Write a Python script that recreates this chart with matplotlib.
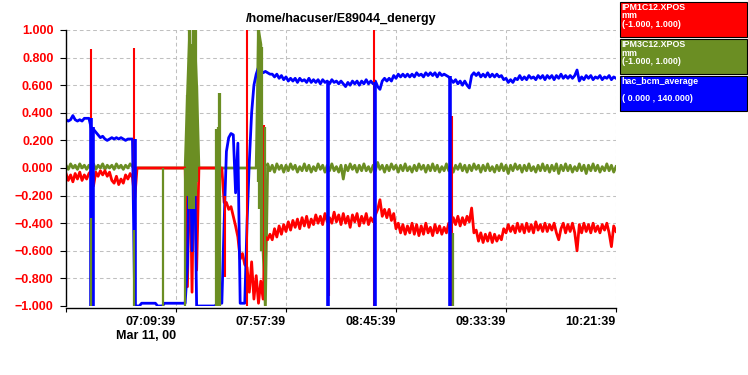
import numpy as np
import matplotlib
matplotlib.use("Agg")
import matplotlib.pyplot as plt
from matplotlib.patches import Rectangle

plt.rcParams["font.family"] = ["Liberation Sans", "DejaVu Sans"]
plt.rcParams["font.weight"] = "bold"

TITLE = "/home/hacuser/E89044_denergy"

# x axis is minutes after 06:21:39, one reading per minute
TICK_MINUTES = [0, 48, 96, 144, 192, 240]
TICK_LABELS = ["", "07:09:39\nMar 11, 00", "07:57:39", "08:45:39", "09:33:39", "10:21:39"]
Y_TICKS = [-1.0, -0.8, -0.6, -0.4, -0.2, 0.0, 0.2, 0.4, 0.6, 0.8, 1.0]

LEGEND_NAMES = ["IPM1C12.XPOS", "IPM3C12.XPOS", "hac_bcm_average"]
LEGEND_UNITS = ["mm", "mm", ""]
LEGEND_RANGES = ["(-1.000, 1.000)", "(-1.000, 1.000)", "( 0.000 , 140.000)"]

RED = "#ff0000"
GREEN = "#6b8e23"
BLUE = "#0000ff"

# IPM1C12.XPOS, minute 0..240
red_values = [
    -0.04, -0.09, -0.05, -0.10, -0.04, -0.08, -0.03, -0.09, -0.05, -0.08,
    -0.04, -0.02, -0.13, -0.03, -0.06, -0.02, -0.05, -0.02, -0.06, -0.03,
    -0.09, -0.11, -0.06, -0.12, -0.08, -0.11, -0.05, -0.08, -0.04, -0.07,
    -0.22, 0.00, 0.00, 0.00, 0.00, 0.00, 0.00, 0.00, 0.00, 0.00,
    0.00, 0.00, 0.00, 0.00, 0.00, 0.00, 0.00, 0.00, 0.00, 0.00,
    0.00, 0.00, 0.00, -0.86, 0.20, -0.90, 0.35, -0.74, 0.00, 0.00,
    0.00, 0.00, 0.00, 0.00, 0.00, 0.00, 0.00, 0.00, 0.00, -0.25,
    -0.25, -0.30, -0.28, -0.35, -0.42, -0.50, -0.66, -0.62, -0.70, -0.72,
    -0.90, -0.68, -0.95, -0.78, -0.98, -0.82, -0.95, -0.50, -0.52, -0.48,
    -0.52, -0.44, -0.50, -0.42, -0.48, -0.41, -0.46, -0.39, -0.45, -0.38,
    -0.43, -0.37, -0.44, -0.36, -0.42, -0.35, -0.43, -0.37, -0.41, -0.34,
    -0.40, -0.35, -0.41, -0.33, -0.39, -0.36, -0.40, -0.32, -0.39, -0.34,
    -0.41, -0.33, -0.40, -0.35, -0.43, -0.34, -0.39, -0.33, -0.42, -0.35,
    -0.40, -0.33, -0.41, -0.36, -0.39, -0.34, -0.30, -0.23, -0.35, -0.30,
    -0.36, -0.30, -0.38, -0.33, -0.44, -0.40, -0.47, -0.41, -0.48, -0.42,
    -0.47, -0.40, -0.48, -0.41, -0.49, -0.42, -0.48, -0.40, -0.47, -0.43,
    -0.49, -0.41, -0.47, -0.42, -0.48, -0.43, -0.47, -0.40, -0.42, -0.36,
    -0.41, -0.35, -0.42, -0.36, -0.41, -0.35, -0.39, -0.29, -0.47, -0.45,
    -0.53, -0.47, -0.54, -0.48, -0.53, -0.47, -0.54, -0.48, -0.53, -0.49,
    -0.52, -0.44, -0.47, -0.41, -0.46, -0.42, -0.47, -0.40, -0.46, -0.41,
    -0.47, -0.40, -0.46, -0.41, -0.47, -0.39, -0.45, -0.41, -0.46, -0.40,
    -0.46, -0.41, -0.45, -0.40, -0.47, -0.52, -0.44, -0.40, -0.47, -0.41,
    -0.46, -0.40, -0.47, -0.60, -0.41, -0.47, -0.40, -0.46, -0.41, -0.47,
    -0.40, -0.46, -0.42, -0.47, -0.41, -0.45, -0.40, -0.47, -0.57, -0.42,
    -0.46,
]

# IPM3C12.XPOS, minute 0..240
green_values = [
    0.02, -0.01, 0.03, 0.00, 0.02, -0.01, 0.03, 0.00, 0.02, -0.01,
    0.02, 0.00, 0.03, -0.01, 0.02, 0.00, 0.03, -0.01, 0.02, 0.00,
    0.02, -0.01, 0.03, 0.00, 0.02, -0.01, 0.02, 0.00, 0.03, 0.01,
    0.00, 0.00, 0.00, 0.00, 0.00, 0.00, 0.00, 0.00, 0.00, 0.00,
    0.00, 0.00, 0.00, 0.00, 0.00, 0.00, 0.00, 0.00, 0.00, 0.00,
    0.00, 0.00, 0.00, 0.53, 1.00, -0.30, 1.00, 0.60, 0.00, 0.00,
    0.00, 0.00, 0.00, 0.00, 0.00, 0.00, 0.00, 0.00, 0.00, 0.00,
    0.00, 0.00, 0.00, 0.00, 0.00, 0.00, 0.00, 0.00, 0.00, 0.00,
    0.00, 0.00, 0.00, 0.00, 1.00, 0.90, -0.60, -1.00, 0.03, -0.02,
    0.02, -0.03, 0.03, -0.01, 0.02, -0.03, 0.02, -0.02, 0.03, -0.01,
    0.02, -0.03, 0.01, -0.02, 0.03, -0.02, 0.02, -0.03, 0.01, -0.02,
    0.03, -0.01, 0.02, -0.03, 0.02, -0.02, 0.03, -0.02, 0.01, -0.03,
    0.02, -0.08, 0.02, -0.02, 0.03, -0.01, 0.02, -0.03, 0.02, -0.02,
    0.03, -0.02, 0.01, -0.03, 0.02, -0.02, 0.04, -0.01, 0.02, -0.03,
    0.02, -0.02, 0.03, -0.01, 0.02, -0.03, 0.02, -0.02, 0.03, -0.02,
    0.01, -0.03, 0.02, -0.02, 0.03, -0.01, 0.02, -0.03, 0.02, -0.02,
    0.03, -0.02, 0.02, -0.03, 0.01, -0.02, 0.03, -0.02, 0.02, -0.03,
    0.02, -0.01, 0.03, -0.02, 0.02, -0.03, 0.02, -0.02, 0.03, -0.01,
    0.02, -0.03, 0.02, -0.02, 0.03, -0.02, 0.01, -0.03, 0.02, -0.02,
    0.03, -0.02, 0.02, -0.04, 0.02, -0.02, 0.03, -0.01, 0.02, -0.03,
    0.02, -0.02, 0.03, -0.02, 0.01, -0.03, 0.02, -0.02, 0.03, -0.02,
    0.02, -0.03, 0.02, -0.02, 0.03, -0.04, 0.02, -0.02, 0.03, -0.02,
    0.02, -0.03, 0.01, -0.02, 0.03, -0.02, 0.02, -0.04, 0.02, -0.02,
    0.03, -0.02, 0.02, -0.03, 0.01, -0.02, 0.03, -0.02, 0.02, -0.03,
    0.01,
]

# hac_bcm_average (scaled onto the same axis), minute 0..240
blue_values = [
    0.35, 0.34, 0.35, 0.38, 0.35, 0.34, 0.35, 0.34, 0.36, 0.36,
    0.36, 0.29, 0.28, 0.26, 0.24, 0.22, 0.23, 0.21, 0.20, 0.21,
    0.22, 0.21, 0.22, 0.21, 0.22, 0.21, 0.20, 0.21, 0.21, 0.21,
    -1.00, -1.00, -1.00, -0.98, -0.98, -0.98, -0.98, -0.98, -0.98, -0.98,
    -1.00, -1.00, -1.00, -0.98, -0.98, -0.98, -0.98, -0.98, -0.98, -0.98,
    -0.98, -0.98, -0.98, -0.70, 0.42, -0.60, 0.20, -1.00, -1.00, -1.00,
    -1.00, -1.00, -1.00, -1.00, -1.00, -1.00, -0.98, -0.98, -0.98, -0.40,
    0.12, 0.22, 0.25, 0.24, -0.18, 0.18, -0.98, -0.98, -0.98, -0.40,
    0.05, 0.40, 0.60, 0.68, 0.73, 0.71, 0.69, 0.70, 0.69, 0.68,
    0.68, 0.66, 0.68, 0.65, 0.67, 0.64, 0.66, 0.63, 0.65, 0.63,
    0.65, 0.62, 0.65, 0.63, 0.64, 0.62, 0.65, 0.62, 0.64, 0.62,
    0.64, 0.61, 0.64, 0.62, 0.63, 0.61, 0.64, 0.62, 0.63, 0.61,
    0.63, 0.61, 0.59, 0.62, 0.60, 0.63, 0.61, 0.63, 0.60, 0.63,
    0.61, 0.64, 0.61, 0.63, 0.61, 0.63, 0.59, 0.57, 0.63, 0.65,
    0.63, 0.65, 0.63, 0.67, 0.65, 0.68, 0.66, 0.68, 0.66, 0.68,
    0.66, 0.68, 0.66, 0.69, 0.67, 0.68, 0.66, 0.69, 0.67, 0.69,
    0.67, 0.69, 0.66, 0.69, 0.67, 0.68, 0.67, 0.66, 0.64, 0.62,
    0.64, 0.61, 0.63, 0.60, 0.63, 0.60, 0.58, 0.67, 0.69, 0.67,
    0.69, 0.66, 0.68, 0.66, 0.69, 0.66, 0.68, 0.66, 0.68, 0.66,
    0.67, 0.64, 0.65, 0.62, 0.64, 0.62, 0.65, 0.64, 0.67, 0.64,
    0.66, 0.64, 0.67, 0.65, 0.66, 0.64, 0.67, 0.65, 0.67, 0.64,
    0.67, 0.65, 0.67, 0.64, 0.67, 0.65, 0.68, 0.65, 0.67, 0.65,
    0.67, 0.65, 0.67, 0.71, 0.63, 0.66, 0.64, 0.67, 0.65, 0.67,
    0.64, 0.66, 0.65, 0.67, 0.64, 0.66, 0.65, 0.67, 0.64, 0.66,
    0.65,
]

# short excursions between readings: (minute, low, high)
red_spikes = [(10.9, -0.15, 0.86), (29.6, -0.23, 0.87), (69.2, -0.79, -0.20),
              (79.0, -1.00, 1.00), (86.2, -0.95, 0.31), (114.6, -0.93, -0.36),
              (134.6, -1.00, 1.00), (168.5, -1.00, 0.38)]
blue_spikes = [(11.0, -1.00, 0.36), (11.6, -1.00, 0.30), (29.9, -1.00, 0.21),
               (114.3, -1.00, 0.63), (134.8, -1.00, 0.62), (167.7, -1.00, 0.67)]
green_spikes = [(10.8, -1.00, -0.36), (29.6, -1.00, -0.45), (42.3, -1.00, 0.00),
                (51.9, -1.00, 0.00), (53.0, -0.20, 0.53), (53.6, -0.30, 1.00),
                (54.2, -0.30, 1.00), (54.8, -0.30, 0.90), (55.4, -0.30, 1.00),
                (56.0, -0.30, 1.00), (56.6, -0.20, 1.00), (57.2, -0.10, 0.60),
                (65.6, -1.00, 0.28), (66.2, -1.00, 0.30), (66.8, -1.00, 0.54),
                (67.4, -1.00, 0.54), (83.8, -0.10, 1.00), (84.4, -0.30, 1.00),
                (85.0, -0.60, 0.90), (85.6, -0.60, 0.88), (86.8, -1.00, 0.30),
                (168.9, -1.00, -0.47)]

minutes = np.arange(len(red_values))

fig = plt.figure(figsize=(7.48, 3.75), dpi=100)
ax = fig.add_axes([66 / 748, 1 - 306 / 375, 550 / 748, 276 / 375])

ax.plot(minutes, green_values, color=GREEN, lw=2.0)
ax.plot(minutes, red_values, color=RED, lw=2.0)
ax.plot(minutes, blue_values, color=BLUE, lw=2.0)


def draw_spikes(spikes, color, width):
    t = [s[0] for s in spikes]
    lo = [s[1] for s in spikes]
    hi = [s[2] for s in spikes]
    ax.vlines(t, lo, hi, colors=color, lw=width)


draw_spikes(red_spikes, RED, 1.5)
draw_spikes(blue_spikes, BLUE, 2.6)
draw_spikes(green_spikes, GREEN, 1.6)

ax.grid(True, color="#c0c0c0", linestyle=(0, (3.6, 2.8)), lw=0.75)
ax.set_axisbelow(True)
for side in ("top", "right"):
    ax.spines[side].set_visible(False)
ax.spines["left"].set_linewidth(1.0)
ax.spines["bottom"].set_linewidth(1.0)
ax.spines["bottom"].set_position(("outward", 1.5))
ax.tick_params(axis="y", length=4, width=0.8, pad=5)
ax.tick_params(axis="x", length=3, width=0.8, pad=3)

ax.set_xlim(0, 240)
ax.set_ylim(-1.0, 1.0)
ax.set_xticks(TICK_MINUTES)
ax.set_xticklabels(TICK_LABELS, fontsize=9, fontweight="bold")
ax.set_yticks(Y_TICKS)
ax.set_yticklabels([f"{v:.3f}".replace("-", "\u2212") for v in Y_TICKS],
                   fontsize=9, fontweight="bold", color=RED)
for tick in ax.xaxis.get_major_ticks():
    tick.label1.set_horizontalalignment("right")
    tick.label1.set_multialignment("right")

fig.text(341 / 748, 1 - 19 / 375, TITLE, ha="center", va="center",
         fontsize=9, fontweight="bold")

# legend boxes at the upper right
box_colors = [RED, GREEN, BLUE]
box_tops = [2, 39, 76]
for name, unit, rng, col, top in zip(LEGEND_NAMES, LEGEND_UNITS, LEGEND_RANGES,
                                     box_colors, box_tops):
    fig.add_artist(Rectangle((620 / 748, 1 - (top + 35) / 375), 127 / 748, 35 / 375,
                             transform=fig.transFigure, facecolor=col,
                             edgecolor="black", lw=0.8))
    for text, dy in zip([name, unit, rng], [8, 16.5, 25]):
        if text:
            fig.text(621.5 / 748, 1 - (top + dy) / 375, text, ha="left",
                     va="baseline", fontsize=6.4, fontweight="bold", color="white")

fig.savefig("out.png", dpi=100)
